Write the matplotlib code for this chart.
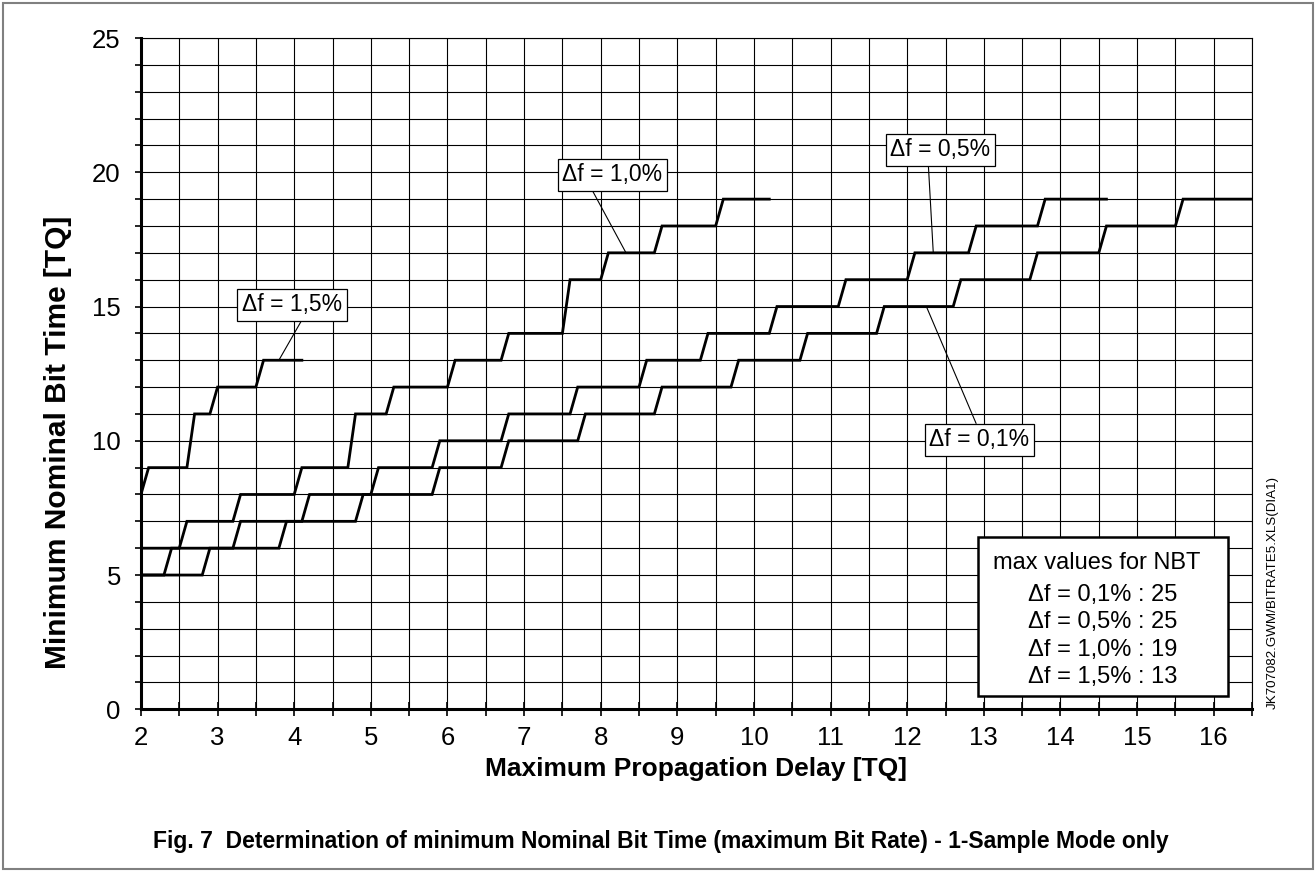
import numpy as np
import matplotlib
matplotlib.use("Agg")
import matplotlib.pyplot as plt
from matplotlib.patches import Rectangle

plt.rcParams['font.family'] = ['Liberation Sans', 'DejaVu Sans']

# step data: level (NBT) held from x_from to x_to (propagation delay, TQ)
lvl_01 = [5, 6, 7, 8, 9, 10, 11, 12, 13, 14, 15, 16, 17, 18, 19]
from_01 = [2.0, 2.9, 3.9, 4.9, 5.9, 6.8, 7.8, 8.8, 9.8, 10.7, 11.7, 12.7, 13.7, 14.6, 15.6]
to_01 = [2.8, 3.8, 4.8, 5.8, 6.7, 7.7, 8.7, 9.7, 10.6, 11.6, 12.6, 13.6, 14.5, 15.5, 16.5]

lvl_05 = [5, 6, 7, 8, 9, 10, 11, 12, 13, 14, 15, 16, 17, 18, 19]
from_05 = [2.0, 2.4, 3.3, 4.2, 5.1, 5.9, 6.8, 7.7, 8.6, 9.4, 10.3, 11.2, 12.1, 12.9, 13.8]
to_05 = [2.3, 3.2, 4.1, 5.0, 5.8, 6.7, 7.6, 8.5, 9.3, 10.2, 11.1, 12.0, 12.8, 13.7, 14.6]

lvl_10 = [6, 7, 8, 9, 11, 12, 13, 14, 16, 17, 18, 19]
from_10 = [2.0, 2.6, 3.3, 4.1, 4.8, 5.3, 6.1, 6.8, 7.6, 8.1, 8.8, 9.6]
to_10 = [2.5, 3.2, 4.0, 4.7, 5.2, 6.0, 6.7, 7.5, 8.0, 8.7, 9.5, 10.2]

lvl_15 = [8, 9, 11, 12, 13]
from_15 = [2.0, 2.1, 2.7, 3.0, 3.6]
to_15 = [2.0, 2.6, 2.9, 3.5, 4.1]

curve_labels = ["\u0394f = 0,1%", "\u0394f = 0,5%", "\u0394f = 1,0%", "\u0394f = 1,5%"]
max_nbt = [25, 25, 19, 13]

fig = plt.figure(figsize=(13.16, 8.72), dpi=100)
ax = fig.add_axes([0.1071, 0.1866, 0.8443, 0.7698])

ax.set_xlim(2, 16.5)
ax.set_ylim(0, 25)
ax.set_xticks(np.arange(2, 17, 1))
ax.set_xticks(np.arange(2.5, 16.6, 1), minor=True)
ax.set_yticks(np.arange(0, 26, 5))
ax.set_yticks(np.arange(0, 26, 1), minor=True)
ax.grid(True, which='both', color='black', lw=0.8)
ax.set_axisbelow(True)

ax.tick_params(axis='both', which='both', direction='inout', length=10, width=1.2, labelsize=18.5)
ax.tick_params(axis='y', which='both', direction='out', length=4.5, pad=10)
ax.tick_params(axis='x', pad=7)
for s in ['left', 'bottom']:
    ax.spines[s].set_linewidth(2.2)
for s in ['top', 'right']:
    ax.spines[s].set_linewidth(0.8)

for lv, xf, xt in [(lvl_01, from_01, to_01), (lvl_05, from_05, to_05),
                   (lvl_10, from_10, to_10), (lvl_15, from_15, to_15)]:
    xs = np.column_stack([xf, xt]).ravel()
    ys = np.repeat(lv, 2)
    ax.plot(xs, ys, color='black', lw=2.0, solid_joinstyle='miter')

box = dict(boxstyle='square,pad=0.2', fc='white', ec='black', lw=0.9)
arrow = dict(arrowstyle='-', color='black', lw=0.8, shrinkA=0, shrinkB=0)
# label text, text position, point on curve, where leader leaves the box
notes = [
    (curve_labels[0], (12.94, 10.03), (12.25, 15.0), (0.49, 1.0)),
    (curve_labels[1], (12.43, 20.83), (12.34, 17.0), (0.38, 0.0)),
    (curve_labels[2], (8.15, 19.9), (8.33, 17.0), (0.28, 0.0)),
    (curve_labels[3], (3.97, 15.06), (3.80, 13.0), (0.62, 0.0)),
]
for txt, tpos, pt, rp in notes:
    a = dict(arrow)
    a['relpos'] = rp
    ax.annotate(txt, xy=pt, xytext=tpos, ha='center', va='center', fontsize=16.5,
                bbox=box, arrowprops=a)

ax.add_patch(Rectangle((0.7534, 0.0198), 0.225, 0.2369, transform=ax.transAxes,
                       fc='white', ec='black', lw=1.8, zorder=5))
ax.text(0.8605, 0.218, "max values for NBT", transform=ax.transAxes, ha='center',
        va='center', fontsize=17, zorder=6)
for i, (lab, m) in enumerate(zip(curve_labels, max_nbt)):
    ax.text(0.798, 0.1703 - i * 0.0407, "%s : %d" % (lab, m), transform=ax.transAxes,
            ha='left', va='center', fontsize=17, zorder=6)

ax.set_xlabel("Maximum Propagation Delay [TQ]", fontsize=19, fontweight='bold', labelpad=5)
ax.set_ylabel("Minimum Nominal Bit Time [TQ]", fontsize=21.5, fontweight='bold')
ax.yaxis.set_label_coords(-0.062, 0.398)

fig.text(0.967, 0.321, "JK707082.GWM/BITRATE5.XLS(DIA1)", rotation=90, ha='center',
         va='center', fontsize=9.6)
fig.text(0.502, 0.035, "Fig. 7  Determination of minimum Nominal Bit Time (maximum Bit Rate) - 1-Sample Mode only",
         ha='center', va='center', fontsize=16.5, fontweight='bold')

fig.patches.append(Rectangle((0.002, 0.003), 0.996, 0.994, transform=fig.transFigure,
                             fill=False, ec='#808080', lw=1.5))

fig.savefig("out.png", dpi=100)
